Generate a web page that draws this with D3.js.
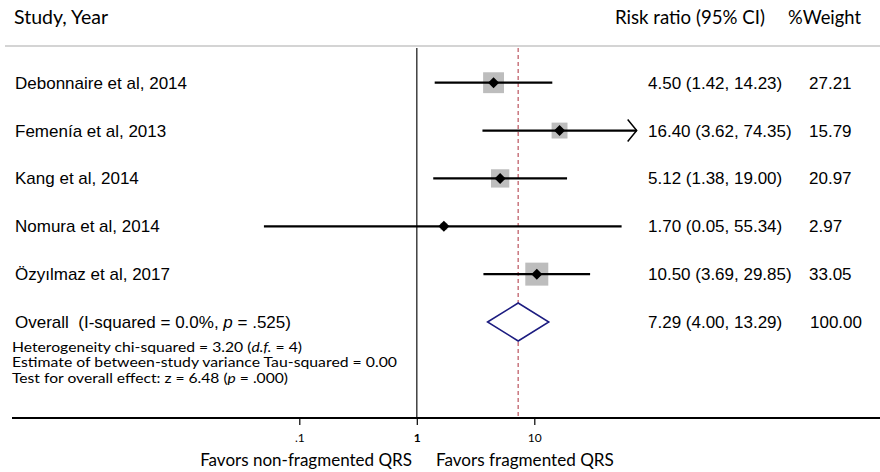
<!DOCTYPE html>
<html>
<head>
<meta charset="utf-8">
<script src="https://cdn.jsdelivr.net/npm/d3@7"></script>
<style>
  html, body { margin: 0; padding: 0; background: #fff; }
  svg { display: block; }
</style>
</head>
<body>
<svg id="chart" width="880" height="472"></svg>
<script>
// ---------- data ----------
const studies = ["Debonnaire et al, 2014", "Femenía et al, 2013", "Kang et al, 2014", "Nomura et al, 2014", "Özyılmaz et al, 2017"];
const rr      = [4.50, 16.40, 5.12, 1.70, 10.50];
const ciLow   = [1.42, 3.62, 1.38, 0.05, 3.69];
const ciHigh  = [14.23, 74.35, 19.00, 55.34, 29.85];
const weights = [27.21, 15.79, 20.97, 2.97, 33.05];
const overallRR = 7.29, overallLow = 4.00, overallHigh = 13.29, overallWeight = 100.00;
const tickValues = [0.1, 1, 10];
const tickLabels = [".1", "1", "10"];
const footLines = [
  ["Heterogeneity chi-squared = 3.20 (", ["d.f.", true], " = 4)"],
  ["Estimate of between-study variance Tau-squared = 0.00"],
  ["Test for overall effect: z = 6.48 (", ["p", true], " = .000)"]
];

// ---------- layout ----------
const svg = d3.select("#chart");
const sans = "'Liberation Sans', Arial, Helvetica, sans-serif";
const cal = "Lato, 'Open Sans', sans-serif";
const x = d3.scaleLog().domain([0.1, 10]).range([299.3, 534.3]);
const rowY = d3.scalePoint().domain(d3.range(6)).range([82.7, 322]);
const plotTop = 48, axisY = 418;
const arrowLimit = 60;

// scale a text's font so that it spans the wanted width
function fit(sel, width) {
  const fs = +sel.attr("font-size");
  const w = sel.node().getComputedTextLength();
  if (w > 0) sel.attr("font-size", (fs * width / w).toFixed(2));
  return sel;
}

// header
fit(svg.append("text").attr("x", 14).attr("y", 24).attr("font-family", cal).attr("font-size", 17).text("Study, Year"), 94);
fit(svg.append("text").attr("x", 615).attr("y", 24).attr("font-family", cal).attr("font-size", 17).text("Risk ratio (95% CI)"), 150);
fit(svg.append("text").attr("x", 788).attr("y", 24).attr("font-family", cal).attr("font-size", 17).text("%Weight"), 73);
svg.append("line").attr("x1", 5).attr("x2", 880).attr("y1", 46).attr("y2", 46)
  .attr("stroke", "#d4d4d4").attr("stroke-width", 2);

// null line and overall dashed line
svg.append("line").attr("x1", x(1)).attr("x2", x(1)).attr("y1", plotTop).attr("y2", axisY)
  .attr("stroke", "#333").attr("stroke-width", 1.4);
svg.append("line").attr("x1", x(overallRR)).attr("x2", x(overallRR)).attr("y1", plotTop).attr("y2", axisY)
  .attr("stroke", "#c0606a").attr("stroke-width", 1.3).attr("stroke-dasharray", "4,3");

// studies
const rows = studies.map((s, i) => ({s, rr: rr[i], lo: ciLow[i], hi: ciHigh[i], w: weights[i], i}));
const g = svg.append("g");
rows.forEach(d => {
  const y = rowY(d.i);
  g.append("text").attr("x", 15).attr("y", y + 6).attr("font-family", sans).attr("font-size", 17).text(d.s);
  const side = 4.0 * Math.sqrt(d.w);
  g.append("rect").attr("x", x(d.rr) - side / 2).attr("y", y - side / 2)
    .attr("width", side).attr("height", side).attr("fill", "#bdbdbd");
  g.append("line").attr("x1", x(d.lo)).attr("x2", x(d.hi)).attr("y1", y).attr("y2", y)
    .attr("stroke", "#000").attr("stroke-width", 2.2);
  if (d.hi > arrowLimit) {
    const xe = x(d.hi);
    g.append("path").attr("d", `M${xe - 9},${y - 11} L${xe},${y} L${xe - 9},${y + 11}`)
      .attr("fill", "none").attr("stroke", "#000").attr("stroke-width", 1.5);
  }
  const h = 5.5;
  g.append("path").attr("d", `M${x(d.rr) - h},${y} L${x(d.rr)},${y - h} L${x(d.rr) + h},${y} L${x(d.rr)},${y + h} Z`)
    .attr("fill", "#000");
  g.append("text").attr("x", 648).attr("y", y + 6).attr("font-family", sans).attr("font-size", 17)
    .text(`${d.rr.toFixed(2)} (${d.lo.toFixed(2)}, ${d.hi.toFixed(2)})`);
  g.append("text").attr("x", 809).attr("y", y + 6).attr("font-family", sans).attr("font-size", 17)
    .text(d.w.toFixed(2));
});

// overall
const oy = rowY(5);
const ot = svg.append("text").attr("x", 15).attr("y", oy + 6).attr("font-family", sans).attr("font-size", 17)
  .attr("xml:space", "preserve");
ot.append("tspan").text("Overall  (I-squared = 0.0%, ");
ot.append("tspan").attr("font-style", "italic").text("p");
ot.append("tspan").text(" = .525)");
svg.append("path")
  .attr("d", `M${x(overallLow)},${oy} L${x(overallRR)},${oy - 19} L${x(overallHigh)},${oy} L${x(overallRR)},${oy + 19} Z`)
  .attr("fill", "#fff").attr("stroke", "#1c1c80").attr("stroke-width", 1.5);
svg.append("text").attr("x", 648).attr("y", oy + 6).attr("font-family", sans).attr("font-size", 17)
  .text(`${overallRR.toFixed(2)} (${overallLow.toFixed(2)}, ${overallHigh.toFixed(2)})`);
svg.append("text").attr("x", 810).attr("y", oy + 6).attr("font-family", sans).attr("font-size", 17)
  .text(overallWeight.toFixed(2));

// footnotes (small caps-height like the original, stretched to the original widths)
const footWidths = [290, 385, 276];
footLines.forEach((parts, i) => {
  const t = svg.append("text").attr("x", 12).attr("y", 351.5 + i * 15.6)
    .attr("font-family", cal).attr("font-size", 13).attr("xml:space", "preserve");
  parts.forEach(p => {
    if (Array.isArray(p)) t.append("tspan").attr("font-style", "italic").text(p[0]);
    else t.append("tspan").text(p);
  });
  t.attr("textLength", footWidths[i]).attr("lengthAdjust", "spacingAndGlyphs");
});

// axis
const axis = d3.axisBottom(x).tickValues(tickValues).tickSize(7)
  .tickFormat((d, i) => tickLabels[i]);
const ag = svg.append("g").attr("transform", `translate(0,${axisY})`).call(axis);
ag.select(".domain").remove();
ag.selectAll(".tick line").attr("stroke", "#000").attr("stroke-width", 1.2);
ag.selectAll(".tick text").attr("font-family", cal).attr("font-size", 12).attr("fill", "#000").attr("dy", "1.15em")
  .attr("font-weight", (d) => d === 1 ? "bold" : "normal");
svg.append("line").attr("x1", 12).attr("x2", 880).attr("y1", axisY).attr("y2", axisY)
  .attr("stroke", "#000").attr("stroke-width", 2);

// favors labels
fit(svg.append("text").attr("x", 412).attr("y", 466).attr("text-anchor", "end").attr("font-family", cal)
  .attr("font-size", 16).text("Favors non-fragmented QRS"), 212);
fit(svg.append("text").attr("x", 436).attr("y", 466).attr("font-family", cal)
  .attr("font-size", 16).text("Favors fragmented QRS"), 178);
</script>
</body>
</html>
